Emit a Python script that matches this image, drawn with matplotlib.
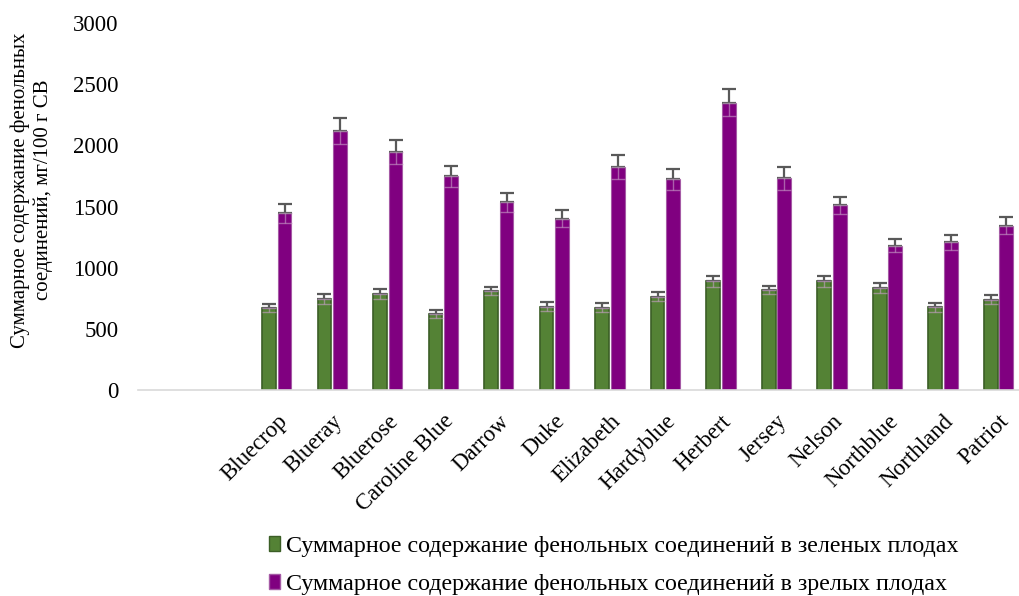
import numpy as np
import matplotlib.pyplot as plt
from matplotlib.patches import Patch

# сорта (первые две позиции на оси пустые, как в оригинале)
sorta = ['', '', 'Bluecrop', 'Blueray', 'Bluerose', 'Caroline Blue', 'Darrow', 'Duke',
         'Elizabeth', 'Hardyblue', 'Herbert', 'Jersey', 'Nelson', 'Northblue',
         'Northland', 'Patriot']

zel = [667, 743, 782, 621, 809, 681, 673, 763, 888, 817, 888, 833, 675, 738]
zel_err = [33, 38, 41, 35, 33, 35, 35, 35, 44, 33, 44, 44, 35, 35]
zrel = [1443, 2119, 1942, 1748, 1533, 1400, 1825, 1721, 2350, 1729, 1509, 1179, 1206, 1343]
zrel_err = [74, 106, 98, 87, 79, 71, 98, 87, 114, 90, 71, 54, 63, 71]

lab_zel = 'Суммарное содержание фенольных соединений в зеленых плодах'
lab_zrel = 'Суммарное содержание фенольных соединений в зрелых плодах'

plt.rcParams['font.family'] = ['Liberation Serif', 'DejaVu Serif']

fig = plt.figure(figsize=(10.19, 5.96), dpi=100)
ax = fig.add_axes([0.1354, 0.3456, 0.8716, 0.6158])

x = np.arange(2, len(sorta))
w = 0.25
g = 0.03

ax.bar(x - w/2 - g/2, zel, w, color='#548235', edgecolor='#3b5e26', linewidth=1.2, zorder=2)
ax.bar(x + w/2 + g/2, zrel, w, color='#800080', edgecolor='#a55aa5', linewidth=0.8, zorder=2)

# верхняя часть планок погрешности тёмная, нижняя (внутри столбца) бледная
for xs, v, e in [(x - w/2 - g/2, zel, zel_err), (x + w/2 + g/2, zrel, zrel_err)]:
    e = np.array(e)
    ax.errorbar(xs, v, yerr=[np.zeros_like(e), e], fmt='none', ecolor='#595959',
                elinewidth=1.6, capsize=5, capthick=1.6, zorder=3)
    ax.errorbar(xs, v, yerr=[e, np.zeros_like(e)], fmt='none', ecolor='#c8a0c8',
                elinewidth=1.0, capsize=5, capthick=1.0, alpha=0.6, zorder=3)

ax.set_xlim(-0.5, len(sorta) - 0.5)
ax.set_ylim(0, 3000)
ax.set_yticks(np.arange(0, 3001, 500))
ax.set_xticks(np.arange(len(sorta)))
ax.set_xticklabels(sorta, rotation=45, ha='right', rotation_mode='anchor', fontsize=16.5)
ax.tick_params(axis='both', length=0, labelsize=16.5)
ax.tick_params(axis='x', pad=15)
ax.tick_params(axis='y', pad=14)

for s in ['top', 'right', 'left']:
    ax.spines[s].set_visible(False)
ax.spines['bottom'].set_color('#d9d9d9')
ax.spines['bottom'].set_linewidth(1.2)

fig.text(0.031, 0.681, 'Суммарное содержание фенольных\nсоединений, мг/100 г СВ',
         rotation=90, ha='center', va='center', fontsize=15, linespacing=1.2)

handles = [Patch(facecolor='#548235', edgecolor='#3b5e26', label=lab_zel),
           Patch(facecolor='#800080', edgecolor='#a55aa5', label=lab_zrel)]
fig.legend(handles=handles, loc='upper left', bbox_to_anchor=(0.264, 0.101),
           frameon=False, fontsize=17.3, handlelength=0.45, handleheight=0.6,
           handletextpad=0.25, labelspacing=0.72, borderpad=0, borderaxespad=0)

fig.savefig('out.png', dpi=100)
